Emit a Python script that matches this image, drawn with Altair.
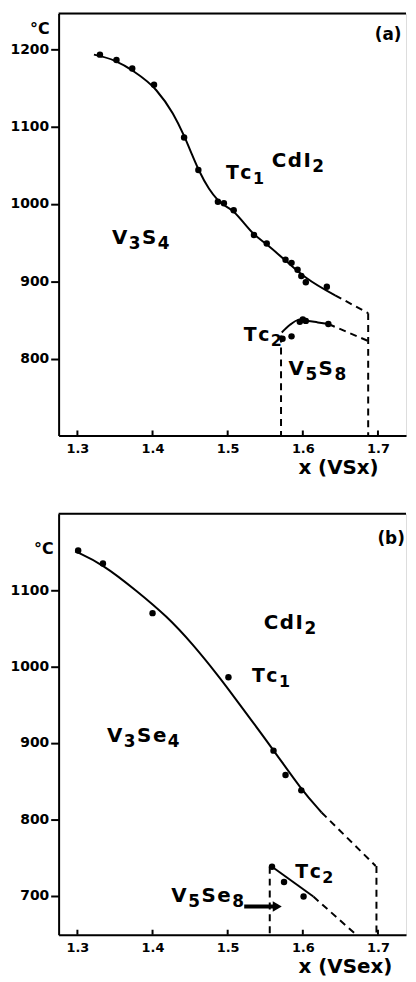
import altair as alt
import pandas as pd

# ------------------------------------------------------------------ data
x_ticks = [1.3, 1.4, 1.5, 1.6, 1.7]
a_y_ticks = [800, 900, 1000, 1100, 1200]
b_y_ticks = [700, 800, 900, 1000, 1100]

# panel (a)  V-S system
a_tc1_pts_x = [1.330, 1.352, 1.373, 1.402, 1.442, 1.461, 1.487, 1.495, 1.508,
               1.535, 1.552, 1.577, 1.585, 1.593, 1.598, 1.604, 1.632]
a_tc1_pts_T = [1193, 1186, 1175, 1154, 1086, 1044, 1003, 1001, 992,
               960, 949, 928, 924, 915, 907, 899, 893]
a_tc2_pts_x = [1.573, 1.585, 1.596, 1.600, 1.604, 1.634]
a_tc2_pts_T = [826, 829, 848, 851, 849, 845]

a_tc1_solid_x = [1.322, 1.350, 1.374, 1.405, 1.427, 1.442, 1.452, 1.462, 1.475,
                 1.487, 1.508, 1.535, 1.553, 1.577, 1.604, 1.643]
a_tc1_solid_T = [1193, 1185, 1172, 1147, 1117, 1088, 1065, 1043, 1020,
                 1005, 990, 961, 947, 927, 905, 882]
a_tc1_dash_x = [1.643, 1.687]
a_tc1_dash_T = [882, 859]
a_right_x = [1.687, 1.687]
a_right_T = [859, 701]
a_tc2_solid_x = [1.572, 1.583, 1.594, 1.607, 1.620, 1.634]
a_tc2_solid_T = [834, 844, 850, 849, 847, 845]
a_tc2_dash_x = [1.634, 1.687]
a_tc2_dash_T = [845, 823]
a_left_x = [1.571, 1.571]
a_left_T = [830, 701]

a_labels = ["CdI2", "Tc1", "V3S4", "Tc2", "V5S8"]
a_label_x = [1.5585, 1.4978, 1.346, 1.5215, 1.581]
a_label_T = [1055, 1040, 956, 831, 787]

# panel (b)  V-Se system
b_tc1_pts_x = [1.301, 1.334, 1.400, 1.501, 1.561, 1.577, 1.598]
b_tc1_pts_T = [1152, 1135, 1070, 986, 890, 858, 838]
b_tc2_pts_x = [1.559, 1.575, 1.601]
b_tc2_pts_T = [738, 718, 699]

b_tc1_solid_x = [1.297, 1.334, 1.379, 1.419, 1.453, 1.489, 1.502, 1.561, 1.598, 1.625]
b_tc1_solid_T = [1151, 1134, 1099, 1066, 1030, 986, 969, 891, 839, 809]
b_tc1_dash_x = [1.625, 1.697]
b_tc1_dash_T = [809, 739]
b_right_x = [1.698, 1.698]
b_right_T = [739, 649]
b_tc2_solid_x = [1.559, 1.614]
b_tc2_solid_T = [738, 699]
b_tc2_dash_x = [1.614, 1.671]
b_tc2_dash_T = [699, 649]
b_left_x = [1.556, 1.556]
b_left_T = [738, 649]
b_arrow_x = [1.522, 1.566]
b_arrow_T = [686, 686]

b_labels = ["CdI2", "Tc1", "V3Se4", "Tc2", "V5Se8"]
b_label_x = [1.548, 1.5323, 1.3394, 1.590, 1.425]
b_label_T = [1057, 987, 909, 731, 700]

# ------------------------------------------------------------------ layout
W = 350
PXX = 757.0            # pixels per unit of x
X0 = 1.275
XDOM = [X0, X0 + W / PXX]
FONT = "DejaVu Sans"

ADV = {'C': .734, 'd': .716, 'I': .372, 'T': .682, 'c': .593, 'e': .678,
       'S': .720, 'V': .774}


def label_pieces(labels, xs, Ts, pxt):
    rows = []
    for lab, x0, t0 in zip(labels, xs, Ts):
        small = lab.startswith("Tc")
        mfs, sfs = (19, 16) if small else (20, 17)
        cur = 0.0
        for ch in lab:
            sub = ch.isdigit()
            fs = sfs if sub else mfs
            rows.append(dict(t=ch, x=x0 + cur / PXX,
                             T=t0 - (6 if sub else 0) / pxt, fs=fs))
            cur += (0.696 if sub else ADV[ch]) * fs + 1.5
    return pd.DataFrame(rows)


def line_df(segments):
    rows = []
    for i, (xs, ts, style) in enumerate(segments):
        for j, (x, t) in enumerate(zip(xs, ts)):
            rows.append(dict(x=x, T=t, seg=i, o=j, style=style))
    return pd.DataFrame(rows)


def panel(H, ydom, yticks, pts, segs, labdf, tag, tag_xy, deg_xy, title, title_x,
          interp, arrow=None):
    xe = alt.X("x:Q", scale=alt.Scale(domain=XDOM, nice=False, zero=False),
               axis=alt.Axis(values=x_ticks, format=".1f", title=None, grid=False,
                             ticks=False, domainColor="black", domainWidth=2,
                             labelFont=FONT, labelFontWeight="bold", labelFontSize=13,
                             labelColor="black", labelPadding=7))
    ye = alt.Y("T:Q", scale=alt.Scale(domain=ydom, nice=False, zero=False),
               axis=alt.Axis(values=yticks, format="d", title=None, grid=False,
                             domainColor="black", domainWidth=2, tickColor="black",
                             tickWidth=2, tickSize=8, labelFont=FONT,
                             labelFontWeight="bold", labelFontSize=14,
                             labelColor="black", labelPadding=2))
    ld = line_df(segs)
    one = pd.DataFrame({"k": [0]})
    layers = [
        alt.Chart(ld).transform_filter(alt.datum.style == "solid")
        .mark_line(color="black", strokeWidth=2, interpolate=interp)
        .encode(x=xe, y=ye, detail="seg:N", order="o:Q"),
        alt.Chart(ld).transform_filter(alt.datum.style == "dash")
        .mark_line(color="black", strokeWidth=2, strokeDash=[7, 5])
        .encode(x=xe, y=ye, detail="seg:N", order="o:Q"),
        alt.Chart(pts).mark_circle(color="black", opacity=1, size=42)
        .encode(x=xe, y=ye),
        alt.Chart(pd.DataFrame({"x": x_ticks})).mark_rule(color="black", strokeWidth=2)
        .encode(x=xe, y=alt.value(H - 5), y2=alt.value(H)),
        alt.Chart(one).mark_rule(color="black", strokeWidth=2)
        .encode(x=alt.value(0), x2=alt.value(W), y=alt.value(0)),
        alt.Chart(labdf).mark_text(font=FONT, fontWeight="bold", align="left",
                                   baseline="middle", color="black")
        .encode(x=xe, y=ye, text="t:N", size=alt.Size("fs:Q", scale=None, legend=None)),
        alt.Chart(one).mark_text(font=FONT, fontWeight="bold", fontSize=17,
                                 align="center", baseline="middle", color="black")
        .encode(x=alt.value(tag_xy[0]), y=alt.value(tag_xy[1]), text=alt.value(tag)),
        alt.Chart(one).mark_text(font=FONT, fontWeight="bold", fontSize=16,
                                 align="right", baseline="middle", color="black")
        .encode(x=alt.value(deg_xy[0]), y=alt.value(deg_xy[1]), text=alt.value("°C")),
        alt.Chart(one).mark_text(font=FONT, fontWeight="bold", fontSize=20,
                                 align="center", baseline="middle", color="black")
        .encode(x=alt.value(title_x), y=alt.value(H + 33), text=alt.value(title)),
    ]
    if arrow is not None:
        layers.append(alt.Chart(arrow).mark_line(color="black", strokeWidth=4)
                      .encode(x=xe, y=ye))
        layers.append(alt.Chart(arrow.tail(1)).mark_point(shape="triangle-right",
                                                         filled=True, color="black",
                                                         opacity=1, size=110)
                      .encode(x=xe, y=ye))
    return alt.layer(*layers).properties(width=W, height=H)


a_pts = pd.DataFrame({"x": a_tc1_pts_x + a_tc2_pts_x, "T": a_tc1_pts_T + a_tc2_pts_T})
b_pts = pd.DataFrame({"x": b_tc1_pts_x + b_tc2_pts_x, "T": b_tc1_pts_T + b_tc2_pts_T})

a_segs = [(a_tc1_solid_x, a_tc1_solid_T, "solid"), (a_tc1_dash_x, a_tc1_dash_T, "dash"),
          (a_right_x, a_right_T, "dash"), (a_tc2_solid_x, a_tc2_solid_T, "solid"),
          (a_tc2_dash_x, a_tc2_dash_T, "dash"), (a_left_x, a_left_T, "dash")]
b_segs = [(b_tc1_solid_x, b_tc1_solid_T, "solid"), (b_tc1_dash_x, b_tc1_dash_T, "dash"),
          (b_right_x, b_right_T, "dash"), (b_tc2_solid_x, b_tc2_solid_T, "solid"),
          (b_tc2_dash_x, b_tc2_dash_T, "dash"), (b_left_x, b_left_T, "dash")]

HA, HB = 425, 424
pa = panel(HA, [701, 1246], a_y_ticks, a_pts, a_segs,
           label_pieces(a_labels, a_label_x, a_label_T, HA / 545.0),
           "(a)", (332, 22), (-9, 16), "x (VSx)", 282, "monotone")
pb = panel(HB, [649, 1200], b_y_ticks, b_pts, b_segs,
           label_pieces(b_labels, b_label_x, b_label_T, HB / 551.0),
           "(b)", (335, 25), (-5, 35), "x (VSex)", 289, "basis",
           arrow=pd.DataFrame({"x": b_arrow_x, "T": b_arrow_T}))

chart = alt.vconcat(pa, pb, spacing=33).properties(
    padding={"left": 1, "top": 0, "right": 0, "bottom": 0}
).configure_view(stroke=None).configure(background="white")

chart.save("out.html", embed_options={"renderer": "svg", "actions": False})
